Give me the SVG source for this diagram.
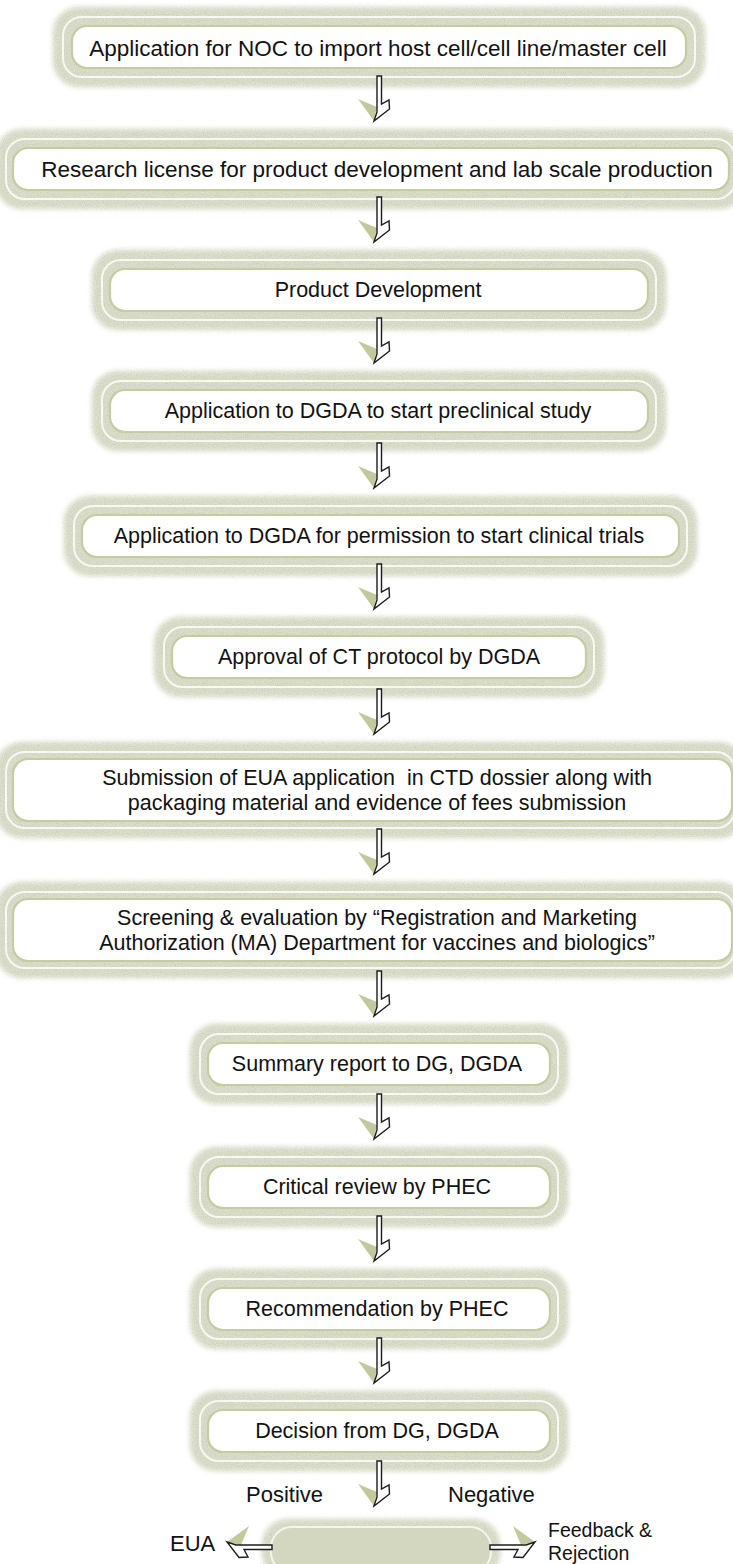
<svg xmlns="http://www.w3.org/2000/svg" width="733" height="1564" viewBox="0 0 733 1564">
<defs>
<filter id="grain" x="-4%" y="-15%" width="108%" height="130%">
  <feGaussianBlur in="SourceGraphic" stdDeviation="2.6" result="b"/>
  <feTurbulence type="fractalNoise" baseFrequency="1.1" numOctaves="1" seed="7" result="n"/>
  <feColorMatrix in="n" type="matrix" values="0 0 0 0 0.55  0 0 0 0 0.57  0 0 0 0 0.47  0 0 0 1.8 -0.7" result="d"/>
  <feComposite in="d" in2="b" operator="in" result="dd"/>
  <feMerge><feMergeNode in="b"/><feMergeNode in="dd"/></feMerge>
</filter>
<g id="arr">
  <path d="M-19,23 L0,31 L-3,45 Z" fill="#c4c99d"/>
  <path d="M0,0 H4.5 V28 L12,24 L12.5,33 L-3,45 L0,36 Z" fill="#fff" stroke="#1c1c1c" stroke-width="1.4" stroke-linejoin="miter"/>
</g>
</defs>
<style>
.glow{fill:#dcdfcb;filter:url(#grain)}
.ring{fill:none;stroke:#f7f8f0;stroke-width:2}
.core{fill:#fff;stroke:#c6cba2;stroke-width:2.2}
.t{font-family:"Liberation Sans",Arial,sans-serif;font-size:21.5px;fill:#121212;text-anchor:middle;dominant-baseline:central}
.big{font-size:22.5px}
.s{font-family:"Liberation Sans",Arial,sans-serif;font-size:22px;fill:#121212;dominant-baseline:central}
</style>
<rect width="733" height="1564" fill="#fff"/>

<g id="n1"><rect class="glow" x="53" y="7" width="652" height="80" rx="26"/><rect class="ring" x="63" y="17" width="632" height="60" rx="19"/><rect class="core" x="72" y="26" width="614" height="42" rx="15"/><text class="t big" x="378" y="48">Application for NOC to import host cell/cell line/master cell</text></g>

<g id="n2"><rect class="glow" x="-4" y="129" width="749" height="80" rx="26"/><rect class="ring" x="6" y="139" width="729" height="60" rx="19"/><rect class="core" x="13" y="148" width="716" height="42" rx="15"/><text class="t big" x="377" y="169">Research license for product development and lab scale production</text></g>

<g id="n3"><rect class="glow" x="92" y="250" width="574" height="80" rx="26"/><rect class="ring" x="102" y="260" width="554" height="60" rx="19"/><rect class="core" x="110" y="269" width="538" height="42" rx="15"/><text class="t" x="378" y="290">Product Development</text></g>

<g id="n4"><rect class="glow" x="92" y="371" width="574" height="80" rx="26"/><rect class="ring" x="102" y="381" width="554" height="60" rx="19"/><rect class="core" x="110" y="390" width="538" height="42" rx="15"/><text class="t" x="378" y="411">Application to DGDA to start preclinical study</text></g>

<g id="n5"><rect class="glow" x="64" y="496" width="633" height="80" rx="26"/><rect class="ring" x="74" y="506" width="613" height="60" rx="19"/><rect class="core" x="82" y="515" width="597" height="42" rx="15"/><text class="t" x="379" y="536">Application to DGDA for permission to start clinical trials</text></g>

<g id="n6"><rect class="glow" x="154" y="617" width="450" height="80" rx="26"/><rect class="ring" x="164" y="627" width="430" height="60" rx="19"/><rect class="core" x="172" y="636" width="414" height="42" rx="15"/><text class="t" x="379" y="657">Approval of CT protocol by DGDA</text></g>

<g id="n7"><rect class="glow" x="-4" y="742" width="749" height="96" rx="26"/><rect class="ring" x="6" y="752" width="729" height="76" rx="19"/><rect class="core" x="13" y="759" width="719" height="62" rx="15"/><text class="t" x="377" y="778" style="white-space:pre">Submission of EUA application  in CTD dossier along with</text><text class="t" x="377" y="803">packaging material and evidence of fees submission</text></g>

<g id="n8"><rect class="glow" x="-4" y="882" width="749" height="96" rx="26"/><rect class="ring" x="6" y="892" width="729" height="76" rx="19"/><rect class="core" x="13" y="899" width="719" height="62" rx="15"/><text class="t" x="377" y="918">Screening &amp; evaluation by “Registration and Marketing</text><text class="t" x="377" y="943">Authorization (MA) Department for vaccines and biologics”</text></g>

<g id="n9"><rect class="glow" x="190" y="1024" width="378" height="80" rx="26"/><rect class="ring" x="200" y="1034" width="358" height="60" rx="19"/><rect class="core" x="208" y="1043" width="342" height="42" rx="15"/><text class="t" x="377" y="1064">Summary report to DG, DGDA</text></g>

<g id="n10"><rect class="glow" x="190" y="1147" width="378" height="80" rx="26"/><rect class="ring" x="200" y="1157" width="358" height="60" rx="19"/><rect class="core" x="208" y="1166" width="342" height="42" rx="15"/><text class="t" x="377" y="1187">Critical review by PHEC</text></g>

<g id="n11"><rect class="glow" x="190" y="1269" width="378" height="80" rx="26"/><rect class="ring" x="200" y="1279" width="358" height="60" rx="19"/><rect class="core" x="208" y="1288" width="342" height="42" rx="15"/><text class="t" x="377" y="1309">Recommendation by PHEC</text></g>

<g id="n12"><rect class="glow" x="190" y="1391" width="378" height="80" rx="26"/><rect class="ring" x="200" y="1401" width="358" height="60" rx="19"/><rect class="core" x="208" y="1410" width="342" height="42" rx="15"/><text class="t" x="377" y="1431">Decision from DG, DGDA</text></g>

<g id="n13"><rect class="glow" x="262" y="1519" width="238" height="60" rx="26"/><rect x="271" y="1527" width="220" height="46" rx="21" fill="#d4d7bf" stroke="#f4f5ec" stroke-width="2"/></g>

<g id="labels">
<text class="s" x="246" y="1494">Positive</text>
<text class="s" x="448" y="1494">Negative</text>
<text class="s" x="170" y="1543">EUA</text>
<text class="s" x="548" y="1530" style="font-size:19.5px">Feedback &amp;</text>
<text class="s" x="548" y="1553" style="font-size:19.5px">Rejection</text>
</g>

<g id="connectors">
<use href="#arr" x="377" y="76"/>
<use href="#arr" x="377" y="197"/>
<use href="#arr" x="377" y="318"/>
<use href="#arr" x="377" y="443"/>
<use href="#arr" x="377" y="564"/>
<use href="#arr" x="377" y="689"/>
<use href="#arr" x="377" y="829"/>
<use href="#arr" x="377" y="971"/>
<use href="#arr" x="377" y="1094"/>
<use href="#arr" x="377" y="1216"/>
<use href="#arr" x="377" y="1338"/>
<use href="#arr" x="377" y="1461"/>
<use href="#arr" transform="translate(272,1545) rotate(90)"/>
<use href="#arr" transform="translate(490,1545) scale(-1,1) rotate(90)"/>
</g>
</svg>
